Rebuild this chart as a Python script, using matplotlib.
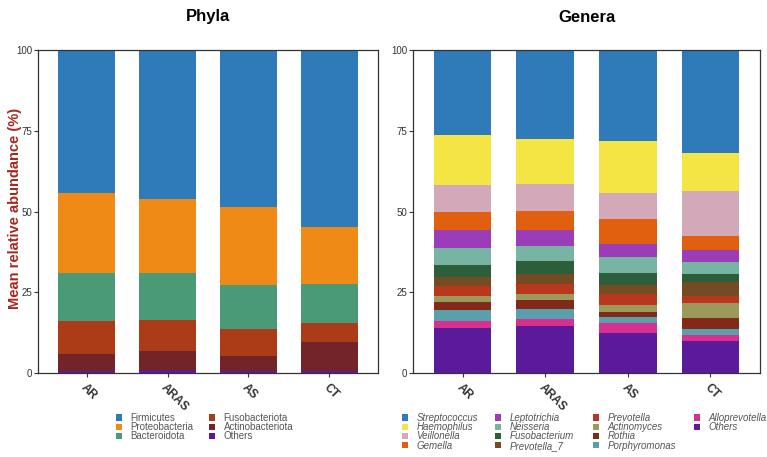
import matplotlib
matplotlib.use("Agg")
import matplotlib.pyplot as plt
from matplotlib.patches import Patch
import numpy as np

plt.rcParams['font.family'] = ['Liberation Sans', 'DejaVu Sans']

groups = ["AR", "ARAS", "AS", "CT"]

# Phyla (bottom -> top)
phyla = ["Others", "Actinobacteriota", "Fusobacteriota", "Bacteroidota", "Proteobacteria", "Firmicutes"]
phyla_others = [0.5, 1.0, 0.5, 0.5]
phyla_actino = [5.4, 5.8, 4.8, 9.1]
phyla_fuso = [10.1, 9.7, 8.4, 5.9]
phyla_bact = [14.9, 14.6, 13.6, 12.1]
phyla_proteo = [24.8, 22.8, 24.1, 17.6]
phyla_firm = [44.3, 46.1, 48.6, 54.8]
phyla_colors = ["#5b1a9b", "#722428", "#ab3c17", "#4a9a78", "#ef8a17", "#2f7ab8"]

# Genera (bottom -> top)
genera = ["Others", "Alloprevotella", "Porphyromonas", "Rothia", "Actinomyces", "Prevotella",
          "Prevotella_7", "Fusobacterium", "Neisseria", "Leptotrichia", "Gemella",
          "Veillonella", "Haemophilus", "Streptococcus"]
gen_others = [13.9, 14.4, 12.3, 9.8]
gen_allo = [2.3, 2.2, 3.1, 2.1]
gen_porph = [3.2, 3.2, 1.8, 1.8]
gen_rothia = [2.5, 2.7, 1.8, 3.3]
gen_actino = [1.8, 2.0, 2.1, 4.6]
gen_prev = [3.1, 3.2, 3.5, 2.2]
gen_prev7 = [2.9, 2.9, 2.7, 4.4]
gen_fuso = [3.8, 4.0, 3.8, 2.4]
gen_neiss = [5.2, 4.6, 4.8, 3.8]
gen_lepto = [5.6, 5.2, 4.1, 3.6]
gen_gem = [5.5, 5.9, 7.8, 4.3]
gen_veill = [8.3, 8.1, 7.9, 13.9]
gen_haem = [15.7, 13.9, 16.0, 12.0]
gen_strep = [26.2, 27.7, 28.3, 31.8]
gen_colors = ["#5b1a9b", "#d8308e", "#5aa0ac", "#82291a", "#9c9a5a", "#b9371c",
              "#734c24", "#2c5e3a", "#78b4a4", "#9b3cb8", "#e06010",
              "#d3a8b8", "#f5e544", "#2f7ab8"]

phyla_vals = [phyla_others, phyla_actino, phyla_fuso, phyla_bact, phyla_proteo, phyla_firm]
gen_vals = [gen_others, gen_allo, gen_porph, gen_rothia, gen_actino, gen_prev, gen_prev7,
            gen_fuso, gen_neiss, gen_lepto, gen_gem, gen_veill, gen_haem, gen_strep]

fig = plt.figure(figsize=(7.67, 4.57), dpi=100)
ax1 = fig.add_axes([38/767, 1-373/457, 340/767, 323/457])
ax2 = fig.add_axes([413/767, 1-373/457, 347/767, 323/457])

x = np.arange(len(groups))

def stack(ax, vals, colors):
    bottom = np.zeros(len(groups))
    for v, c in zip(vals, colors):
        ax.bar(x, v, 0.7, bottom=bottom, color=c, edgecolor='none')
        bottom += np.array(v)

stack(ax1, phyla_vals, phyla_colors)
stack(ax2, gen_vals, gen_colors)

for ax in (ax1, ax2):
    ax.set_xlim(-0.6, 3.6)
    ax.set_ylim(0, 100)
    ax.set_yticks([0, 25, 50, 75, 100])
    ax.set_xticks(x)
    ax.set_xticklabels(groups, rotation=-45, ha='left', rotation_mode='anchor',
                       fontsize=8.5, color='#444444', fontweight='bold')
    ax.tick_params(axis='y', labelsize=7, colors='#333333', length=3, width=0.8, pad=1)
    ax.tick_params(axis='x', length=3, width=0.8, colors='#333333', pad=3)
    for s in ax.spines.values():
        s.set_color('#333333')
        s.set_linewidth(0.9)

ax1.set_ylabel("Mean relative abundance (%)", color='#a6281e', fontweight='bold', fontsize=10.5)
ax1.yaxis.set_label_coords(-0.047, 0.51)

fig.text(208/767, 1-16/457, "Phyla", ha='center', va='center', fontsize=12, fontweight='bold')
fig.text(587/767, 1-18/457, "Genera", ha='center', va='center', fontsize=12, fontweight='bold')

# Legends: one legend per column for exact placement
def column_legend(names, cmap, xpx, italic=False):
    hs = [Patch(facecolor=cmap[n], edgecolor='none', label=n) for n in names]
    leg = fig.legend(handles=hs, ncol=1, loc='upper left', bbox_to_anchor=(xpx/767, 1-413/457),
                     frameon=False, fontsize=7, handlelength=0.6, handleheight=0.6,
                     handletextpad=0.9, labelspacing=-0.08, borderpad=0, borderaxespad=0)
    for t in leg.get_texts():
        t.set_color('#555555')
        if italic:
            t.set_fontstyle('italic')
    return leg

ph_map = dict(zip(phyla, phyla_colors))
column_legend(["Firmicutes", "Proteobacteria", "Bacteroidota"], ph_map, 116)
column_legend(["Fusobacteriota", "Actinobacteriota", "Others"], ph_map, 209)

g_map = dict(zip(genera, gen_colors))
column_legend(["Streptococcus", "Haemophilus", "Veillonella", "Gemella"], g_map, 402, True)
column_legend(["Leptotrichia", "Neisseria", "Fusobacterium", "Prevotella_7"], g_map, 495, True)
column_legend(["Prevotella", "Actinomyces", "Rothia", "Porphyromonas"], g_map, 593, True)
column_legend(["Alloprevotella", "Others"], g_map, 694, True)

fig.savefig("out.png", dpi=100)
